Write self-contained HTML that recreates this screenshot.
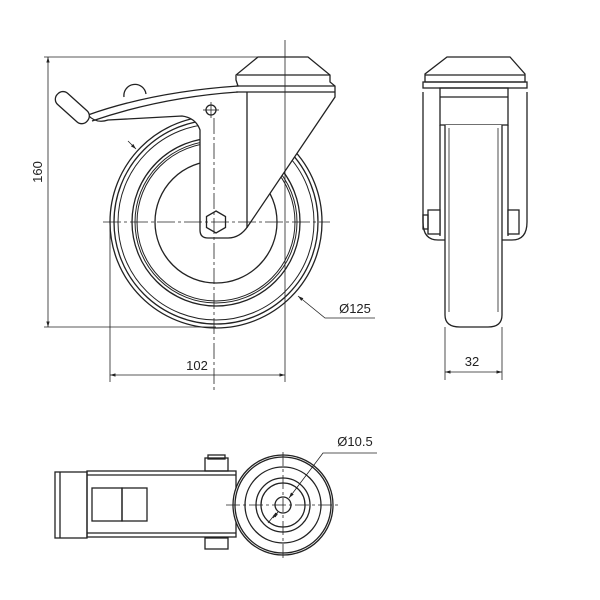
<!DOCTYPE html>
<html><head><style>html,body{margin:0;padding:0;background:#fff}svg{display:block}</style></head>
<body>
<svg width="600" height="600" viewBox="0 0 600 600" xmlns="http://www.w3.org/2000/svg" font-family="Liberation Sans, DejaVu Sans, sans-serif">
<defs>
<marker id="ar" viewBox="0 0 10 10" refX="10" refY="5" markerWidth="7" markerHeight="7" orient="auto-start-reverse"><path d="M0,2 L10,5 L0,8 z" fill="#222"/></marker>
</defs>
<g fill="none" stroke="#222" stroke-width="1.3">
<!-- SIDE VIEW wheel -->
<circle cx="216" cy="222" r="106"/>
<circle cx="216" cy="222" r="102"/>
<circle cx="216" cy="222" r="98" stroke-width="1"/>
<circle cx="216" cy="222" r="84"/>
<circle cx="216" cy="222" r="81" stroke-width="1"/>
<circle cx="216" cy="222" r="79" stroke-width="1"/>
<circle cx="216" cy="222" r="61"/>
<!-- fork body (white fill to hide wheel) -->
<path d="M88,115 C130,100 180,90 238,86 L236,80 L236,75 L258,57 L308,57 L330,75 L330,82 L335,86 L335,97 L248,226 Q240,238 228,238 L208,238 Q200,238 200,230 L200,130 Q196,118 182,116 L108,120 Q96,124 88,115 Z" fill="#fff"/>
<path d="M92,121 C130,108 180,96 238,92" />
<line x1="236" y1="86" x2="335" y2="86"/>
<line x1="236" y1="92" x2="335" y2="92"/>
<line x1="237" y1="75" x2="330" y2="75"/>
<line x1="247" y1="92" x2="247" y2="228"/>
<!-- lever -->
<rect x="52" y="100" width="40" height="15" rx="7" transform="rotate(42 72 108)" fill="#fff"/>
<path d="M124,97 A11,11 0 0 1 146,94" />
<!-- hex -->
<polygon points="216,211 225.5,216.5 225.5,227.5 216,233 206.5,227.5 206.5,216.5" fill="#fff"/>
<circle cx="211" cy="110" r="5"/>
</g>
<g stroke="#222" stroke-width="0.8" fill="none">
<line x1="203" y1="110" x2="219" y2="110"/>
<line x1="211" y1="102" x2="211" y2="118"/>
<line x1="214" y1="118" x2="214" y2="390" stroke-dasharray="16,3,3,3"/>
<line x1="103" y1="222" x2="330" y2="222" stroke-dasharray="18,3,3,3"/>
<line x1="285" y1="40" x2="285" y2="382"/>
<line x1="110" y1="222" x2="110" y2="382"/>
<line x1="44" y1="57" x2="285" y2="57"/>
<line x1="44" y1="327" x2="216" y2="327"/>
<line x1="48" y1="57" x2="48" y2="327" marker-start="url(#ar)" marker-end="url(#ar)"/>
<line x1="110" y1="375" x2="285" y2="375" marker-start="url(#ar)" marker-end="url(#ar)"/>
<polyline points="298,296 325,318 375,318" marker-start="url(#ar)"/>
<line x1="128" y1="141" x2="136" y2="149" marker-end="url(#ar)"/>
</g>
<g fill="#222" font-size="13">
<text x="197" y="370" text-anchor="middle">102</text>
<text x="355" y="313" text-anchor="middle">Ø125</text>
<text transform="translate(42,172) rotate(-90)" text-anchor="middle">160</text>
<text x="472" y="366" text-anchor="middle">32</text>
<text x="355" y="446" text-anchor="middle">Ø10.5</text>
</g>
<!-- FRONT VIEW -->
<g fill="none" stroke="#222" stroke-width="1.3">
<path d="M423,92 L423,222 Q423,240 438,240 L512,240 Q527,240 527,222 L527,92"/>
<path d="M425,82 L425,74 L447,57 L510,57 L525,74 L525,82 Z" fill="#fff"/>
<line x1="425" y1="75" x2="525" y2="75"/>
<rect x="423" y="82" width="104" height="6"/>
<rect x="440" y="88" width="68" height="37"/>
<line x1="440" y1="97" x2="508" y2="97"/>
<path d="M440,125 L440,236 M508,125 L508,236"/>
<path d="M445,125 L445,315 Q445,327 460,327 L488,327 Q502,327 502,315 L502,125" fill="#fff"/>
<line x1="449" y1="128" x2="449" y2="312" stroke-width="0.8"/>
<line x1="498" y1="128" x2="498" y2="312" stroke-width="0.8"/>
<rect x="428" y="210" width="12" height="24" fill="#fff"/>
<rect x="423" y="215" width="5" height="14"/>
<rect x="508" y="210" width="11" height="24" fill="#fff"/>
</g>
<g stroke="#222" stroke-width="0.8" fill="none">
<line x1="445" y1="327" x2="445" y2="380"/>
<line x1="502" y1="327" x2="502" y2="380"/>
<line x1="445" y1="372" x2="502" y2="372" marker-start="url(#ar)" marker-end="url(#ar)"/>
</g>
<!-- BOTTOM VIEW -->
<g fill="none" stroke="#222" stroke-width="1.3">
<rect x="55" y="472" width="32" height="66"/>
<line x1="60" y1="472" x2="60" y2="538"/>
<rect x="87" y="471" width="149" height="66"/>
<line x1="87" y1="475" x2="236" y2="475"/>
<line x1="87" y1="533" x2="236" y2="533"/>
<rect x="92" y="488" width="30" height="33"/>
<rect x="122" y="488" width="25" height="33"/>
<rect x="205" y="458" width="23" height="13"/>
<rect x="208" y="455" width="17" height="4"/>
<rect x="205" y="538" width="23" height="11"/>
<circle cx="283" cy="505" r="50" fill="#fff"/>
<circle cx="283" cy="505" r="48"/>
<circle cx="283" cy="505" r="38"/>
<circle cx="283" cy="505" r="27"/>
<circle cx="283" cy="505" r="22"/>
<circle cx="283" cy="505" r="8"/>
</g>
<g stroke="#222" stroke-width="0.8" fill="none">
<line x1="283" y1="452" x2="283" y2="560" stroke-dasharray="14,3,3,3"/>
<line x1="226" y1="505" x2="340" y2="505" stroke-dasharray="14,3,3,3"/>
<line x1="273" y1="518" x2="278" y2="512" marker-end="url(#ar)" marker-start="url(#ar)"/>
<polyline points="289,498 323,453 377,453" marker-start="url(#ar)"/>
<line x1="268" y1="523" x2="276" y2="513"/>
</g>
</svg>
</body></html>
